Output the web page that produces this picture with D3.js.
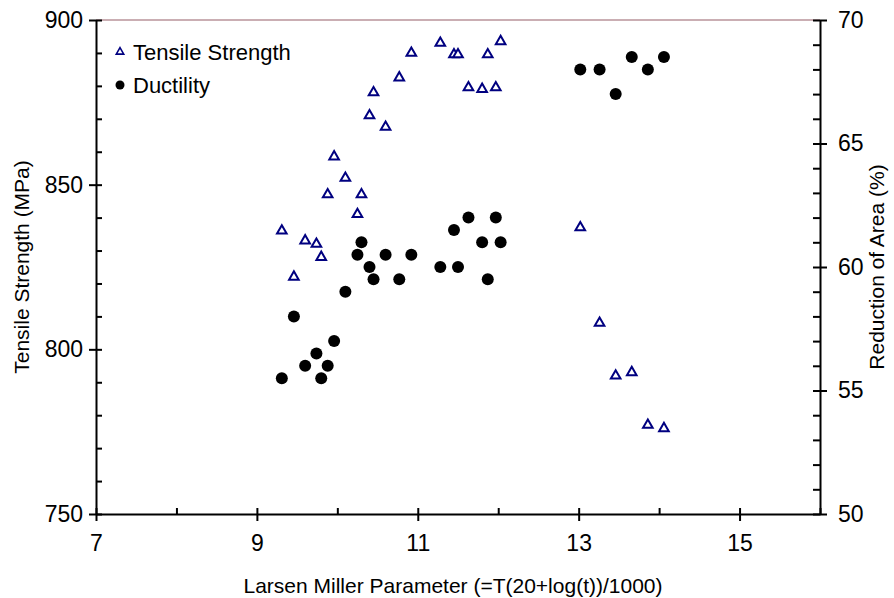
<!DOCTYPE html>
<html lang="en">
<head>
    <meta charset="UTF-8">
    <title>Tensile Strength and Ductility vs Larsen Miller Parameter</title>
    <script src="https://d3js.org/d3.v7.min.js"></script>
    <style>
        body { margin: 0; background: #fff; }
        text { font-family: "Liberation Sans", Arial, sans-serif; fill: #000; }
        .tick text { font-size: 23px; }
        .axis-title { font-size: 21px; }
        .legend text { font-size: 22px; }
    </style>
</head>
<body>
    <svg width="894" height="598"></svg>
    <script>
        // Larsen Miller parameter for each specimen (shared by both series)
        const lmp = [9.31, 9.46, 9.60, 9.74, 9.80, 9.88, 9.96, 10.10, 10.25, 10.30,
                     10.40, 10.45, 10.60, 10.77, 10.92, 11.28, 11.45, 11.50, 11.63, 11.80,
                     11.87, 11.97, 12.03, 13.02, 13.26, 13.46, 13.66, 13.86, 14.06];
        // tensile strength, MPa (left axis)
        const tensile = [836, 822, 833, 832, 828, 847, 858.5, 852, 841, 847,
                         871, 878, 867.5, 882.5, 890, 893, 889.5, 889.5, 879.5, 879,
                         889.5, 879.5, 893.5, 837, 808, 792, 793, 777, 776];
        // reduction of area, % (right axis)
        const ductility = [55.5, 58, 56, 56.5, 55.5, 56, 57, 59, 60.5, 61,
                           60, 59.5, 60.5, 59.5, 60.5, 60, 61.5, 60, 62, 61,
                           59.5, 62, 61, 68, 68, 67, 68.5, 68, 68.5];

        const xTicks = [7, 9, 11, 13, 15];
        const yLeftTicks = [750, 800, 850, 900];
        const yRightTicks = [50, 55, 60, 65, 70];

        const margin = { top: 20, right: 74, bottom: 84, left: 96 };
        const width = 894 - margin.left - margin.right;
        const height = 598 - margin.top - margin.bottom;

        const svg = d3.select("svg");
        const g = svg.append("g")
            .attr("transform", `translate(${margin.left},${margin.top})`);

        const x = d3.scaleLinear().domain([7, 16]).range([0, width]);
        const yL = d3.scaleLinear().domain([750, 900]).range([height, 0]);
        const yR = d3.scaleLinear().domain([50, 70]).range([height, 0]);

        // top frame line
        g.append("line")
            .attr("x1", 0).attr("x2", width)
            .attr("y1", 0).attr("y2", 0)
            .attr("stroke", "#b8939a").attr("stroke-width", 1.5);

        // minor ticks pointing inward
        const inner = 6;
        g.append("g")
            .call(d3.axisRight(yL).tickValues(d3.range(750, 901, 10)).tickSize(inner).tickFormat(""))
            .call(s => s.select(".domain").remove());
        g.append("g")
            .attr("transform", `translate(${width},0)`)
            .call(d3.axisLeft(yR).tickValues(d3.range(50, 71, 1)).tickSize(7).tickFormat(""))
            .call(s => s.select(".domain").remove());
        g.append("g")
            .attr("transform", `translate(0,${height})`)
            .call(d3.axisTop(x).tickValues(d3.range(7, 17, 1)).tickSize(inner).tickFormat(""))
            .call(s => s.select(".domain").remove());

        // main axes with outward major ticks
        g.append("g")
            .attr("transform", `translate(0,${height})`)
            .call(d3.axisBottom(x).tickValues(xTicks).tickSize(7).tickSizeOuter(0).tickPadding(14));
        g.append("g")
            .call(d3.axisLeft(yL).tickValues(yLeftTicks).tickSize(7).tickSizeOuter(0).tickPadding(6));
        g.append("g")
            .attr("transform", `translate(${width},0)`)
            .call(d3.axisRight(yR).tickValues(yRightTicks).tickSize(7).tickSizeOuter(0).tickPadding(11));

        g.selectAll(".domain").attr("stroke", "#000").attr("stroke-width", 2);
        g.selectAll(".tick line").attr("stroke", "#000").attr("stroke-width", 2);
        g.selectAll(".tick text").attr("fill", "#000");

        // axis titles
        g.append("text")
            .attr("class", "axis-title")
            .attr("x", width / 2 - 5)
            .attr("y", height + 79)
            .attr("text-anchor", "middle")
            .text("Larsen Miller Parameter (=T(20+log(t))/1000)");
        g.append("text")
            .attr("class", "axis-title")
            .attr("transform", `translate(-67,${height / 2}) rotate(-90)`)
            .attr("text-anchor", "middle")
            .text("Tensile Strength (MPa)");
        g.append("text")
            .attr("class", "axis-title")
            .attr("transform", `translate(${width + 64},${height / 2}) rotate(-90)`)
            .attr("text-anchor", "middle")
            .text("Reduction of Area (%)");

        // ductility points
        g.selectAll(".duct")
            .data(lmp.map((v, i) => [v, ductility[i]]))
            .enter().append("circle")
            .attr("class", "duct")
            .attr("cx", d => x(d[0]))
            .attr("cy", d => yR(d[1]))
            .attr("r", 6)
            .attr("fill", "#000");

        // tensile strength points
        const tri = d3.symbol().type(d3.symbolTriangle).size(40);
        g.selectAll(".ts")
            .data(lmp.map((v, i) => [v, tensile[i]]))
            .enter().append("path")
            .attr("class", "ts")
            .attr("d", tri)
            .attr("transform", d => `translate(${x(d[0])},${yL(d[1])})`)
            .attr("fill", "#fff")
            .attr("stroke", "#000080")
            .attr("stroke-width", 2);

        // legend
        const legend = g.append("g").attr("class", "legend").attr("transform", "translate(24,32)");
        legend.append("path")
            .attr("d", d3.symbol().type(d3.symbolTriangle).size(24)())
            .attr("fill", "#fff").attr("stroke", "#000080").attr("stroke-width", 1.6);
        legend.append("text").attr("x", 13).attr("y", 8).text("Tensile Strength");
        legend.append("circle").attr("cy", 33).attr("r", 4.5).attr("fill", "#000");
        legend.append("text").attr("x", 13).attr("y", 41).text("Ductility");
    </script>
</body>
</html>
